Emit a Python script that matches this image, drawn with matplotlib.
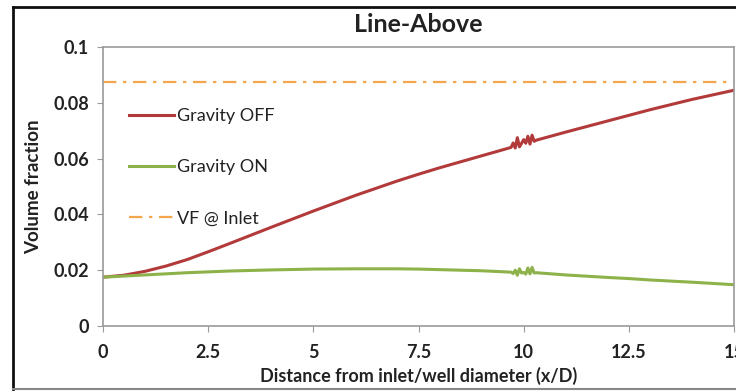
import matplotlib
matplotlib.use("Agg")
import matplotlib.pyplot as plt
from matplotlib.lines import Line2D

plt.rcParams['font.family'] = ['Lato', 'DejaVu Sans']

# Distance along the pipe (x/D) and volume fraction for each case
x_off = [0, 0.5, 1, 1.5, 2, 2.5, 3, 4, 5, 6, 7, 7.5, 8, 9, 9.7, 9.75, 9.8, 9.85, 9.9, 9.95,
         10.0, 10.05, 10.1, 10.15, 10.2, 10.25, 10.3, 11, 12, 12.5, 13, 14, 15]
vf_off = [0.0175, 0.0182, 0.0196, 0.0215, 0.0238, 0.0266, 0.0295, 0.0354, 0.0412, 0.0468,
          0.0520, 0.0544, 0.0567, 0.0610, 0.0640, 0.0656, 0.0638, 0.0675, 0.0642, 0.0655,
          0.0668, 0.0655, 0.0680, 0.0652, 0.0684, 0.0662, 0.0666, 0.0695, 0.0735, 0.0755,
          0.0775, 0.0812, 0.0845]

x_on = [0, 1, 2, 2.5, 3, 4, 5, 6, 7, 7.5, 8, 9, 9.7, 9.75, 9.8, 9.85, 9.9, 9.95,
        10.0, 10.05, 10.1, 10.15, 10.2, 10.25, 10.3, 11, 12, 12.5, 13, 14, 15]
vf_on = [0.0175, 0.0183, 0.0191, 0.0194, 0.0197, 0.0201, 0.0204, 0.0205, 0.0205, 0.0204,
         0.0202, 0.0198, 0.0193, 0.0188, 0.0200, 0.0182, 0.0205, 0.0190, 0.0192, 0.0186,
         0.0208, 0.0187, 0.0210, 0.0190, 0.0191, 0.0183, 0.0174, 0.0170, 0.0165, 0.0157,
         0.0148]

vf_inlet = 0.0876

series_labels = ["Gravity OFF", "Gravity ON", "VF @ Inlet"]
x_ticks = [0, 2.5, 5, 7.5, 10, 12.5, 15]
x_tick_labels = ["0", "2.5", "5", "7.5", "10", "12.5", "15"]
y_ticks = [0, 0.02, 0.04, 0.06, 0.08, 0.1]
y_tick_labels = ["0", "0.02", "0.04", "0.06", "0.08", "0.1"]

red = "#B23A3A"
green = "#8DB24A"
orange = "#F4A64E"
spine_gray = "#9A9A9A"
text_col = "#222222"

fig = plt.figure(figsize=(7.36, 3.92), dpi=100)
W, H = 736, 392
ax = fig.add_axes([103 / W, 1 - 326 / H, (734 - 103) / W, (326 - 47) / H])

ax.axhline(vf_inlet, color=orange, lw=1.6, ls=(0, (6, 3, 1.5, 3)))
ax.plot(x_off, vf_off, color=red, lw=2.2, solid_joinstyle='round')
ax.plot(x_on, vf_on, color=green, lw=2.2, solid_joinstyle='round')

ax.set_xlim(0, 15)
ax.set_ylim(0, 0.1)
ax.set_xticks(x_ticks)
ax.set_xticklabels(x_tick_labels, fontsize=13, fontweight='bold', color=text_col)
ax.set_yticks(y_ticks)
ax.set_yticklabels(y_tick_labels, fontsize=13, fontweight='bold', color=text_col)
ax.tick_params(axis='x', direction='out', length=4, color=spine_gray, pad=9)
ax.tick_params(axis='y', direction='out', length=4, color=spine_gray, pad=6)
for s in ax.spines.values():
    s.set_color(spine_gray)
    s.set_linewidth(1.2)
ax.set_xlabel("Distance from inlet/well diameter (x/D)", fontsize=13, fontweight='bold',
              color=text_col, labelpad=4)
ax.set_ylabel("Volume fraction", fontsize=13.5, fontweight='bold', color=text_col,
              labelpad=8)
ax.set_title("Line-Above", fontsize=18, fontweight='bold', color=text_col, pad=11)

handles = [Line2D([], [], color=red, lw=2.2),
           Line2D([], [], color=green, lw=2.2),
           Line2D([], [], color=orange, lw=1.6, ls=(0, (6, 3, 1.5, 3)))]
ax.legend(handles, series_labels, loc='upper left', bbox_to_anchor=(0.015, 0.84),
          frameon=False, fontsize=13, labelspacing=1.95, handlelength=2.5,
          handletextpad=0.2, labelcolor=text_col)

# outer frame
fig.add_artist(Line2D([13 / W, 1.0], [1 - 7 / H, 1 - 7 / H], transform=fig.transFigure,
                      color="#111111", lw=2))
fig.add_artist(Line2D([13 / W, 13 / W], [1 - 7 / H, 1 - 389 / H], transform=fig.transFigure,
                      color="#111111", lw=2))
fig.add_artist(Line2D([13 / W, 1.0], [1 - 389 / H, 1 - 389 / H], transform=fig.transFigure,
                      color="#888888", lw=1.5))

fig.savefig("out.png", dpi=100)
